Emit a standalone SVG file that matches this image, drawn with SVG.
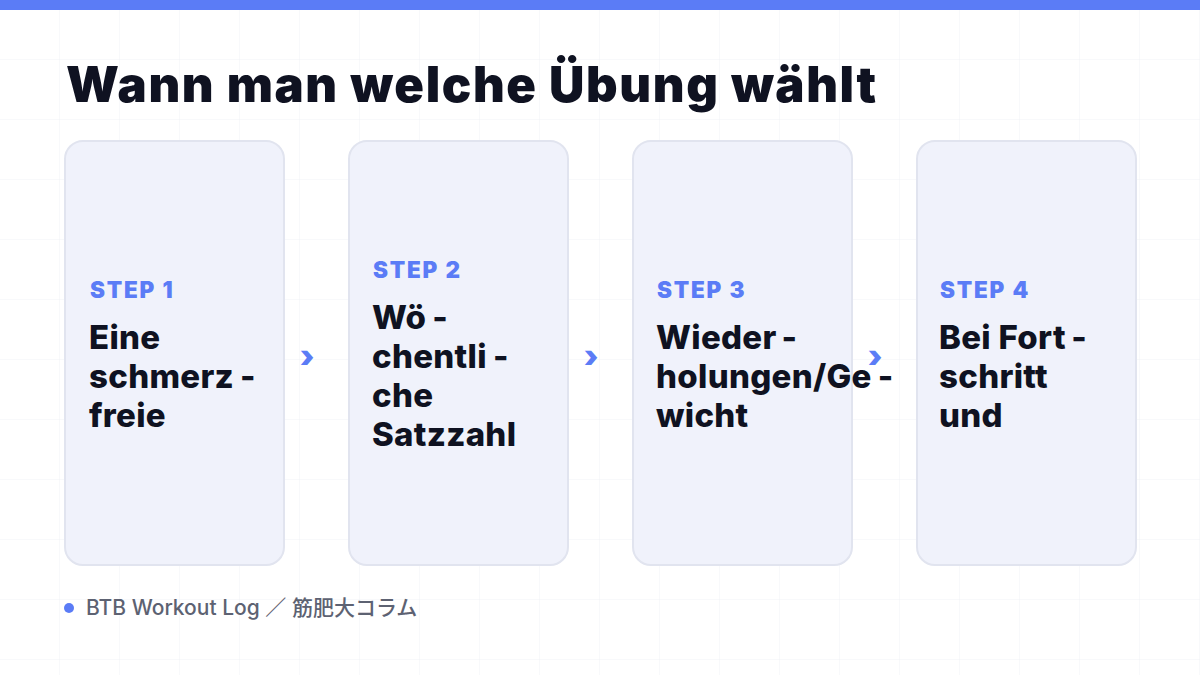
<svg xmlns="http://www.w3.org/2000/svg" width="1200" height="675" viewBox="0 0 1200 675">
<defs>
<pattern id="grid" width="60" height="60" patternUnits="userSpaceOnUse">
<path d="M60 0V60M0 60H60" fill="none" stroke="#f1f2f6" stroke-width="1"/>
</pattern>
</defs>
<style>
.card{fill:#f0f2fb;stroke:#e1e4ef;stroke-width:2}
.step{font-family:Inter,"Noto Sans",sans-serif;font-weight:900;font-size:22.5px;letter-spacing:1.8px;fill:#5b7cf6}
.body{font-family:Inter,"Noto Sans",sans-serif;font-weight:800;font-size:33px;letter-spacing:0.3px;fill:#0f1221}
.arrow{font-family:Inter,"Noto Sans",sans-serif;font-weight:900;font-size:31px;fill:#5b7cf6}
.title{font-family:Inter,"Noto Sans",sans-serif;font-weight:900;font-size:49px;fill:#0f1221}
.foot{font-family:Inter,"Noto Sans CJK JP",sans-serif;font-weight:500;font-size:21px;fill:#5d6272}
</style>
<rect width="1200" height="675" fill="#ffffff"/>
<rect width="1200" height="675" fill="url(#grid)"/>
<rect x="0" y="0" width="1200" height="10" fill="#5b7cf6"/>
<text class="title" x="66" y="102" textLength="810" lengthAdjust="spacing">Wann man welche Übung wählt</text>
<g id="connectors">
<text class="arrow" x="307" y="367" text-anchor="middle">›</text>
<text class="arrow" x="591" y="367" text-anchor="middle">›</text>
<text class="arrow" x="875" y="367" text-anchor="middle">›</text>
</g>
<g id="step1">
<rect class="card" x="65" y="141" width="219" height="424" rx="18"/>
<text class="step" x="90" y="298">STEP 1</text>
<text class="body" x="89" y="349">Eine</text>
<text class="body" x="89" y="388">schmerz<tspan dx="6">-</tspan></text>
<text class="body" x="89" y="427">freie</text>
</g>
<g id="step2">
<rect class="card" x="349" y="141" width="219" height="424" rx="18"/>
<text class="step" x="373" y="278">STEP 2</text>
<text class="body" x="372" y="329">Wö<tspan dx="6">-</tspan></text>
<text class="body" x="372" y="368">chentli<tspan dx="6">-</tspan></text>
<text class="body" x="372" y="407">che</text>
<text class="body" x="372" y="446">Satzzahl</text>
</g>
<g id="step3">
<rect class="card" x="633" y="141" width="219" height="424" rx="18"/>
<text class="step" x="657" y="298">STEP 3</text>
<text class="body" x="656" y="349">Wieder<tspan dx="6">-</tspan></text>
<text class="body" x="656" y="388">holungen/Ge<tspan dx="6">-</tspan></text>
<text class="body" x="656" y="427">wicht</text>
</g>
<g id="step4">
<rect class="card" x="917" y="141" width="219" height="424" rx="18"/>
<text class="step" x="940" y="298">STEP 4</text>
<text class="body" x="939" y="349">Bei Fort<tspan dx="6">-</tspan></text>
<text class="body" x="939" y="388">schritt</text>
<text class="body" x="939" y="427">und</text>
</g>
<g id="footer">
<circle cx="69" cy="608" r="5" fill="#5b7cf6"/>
<text class="foot" x="86" y="615">BTB Workout Log ／ 筋肥大コラム</text>
</g>
</svg>
